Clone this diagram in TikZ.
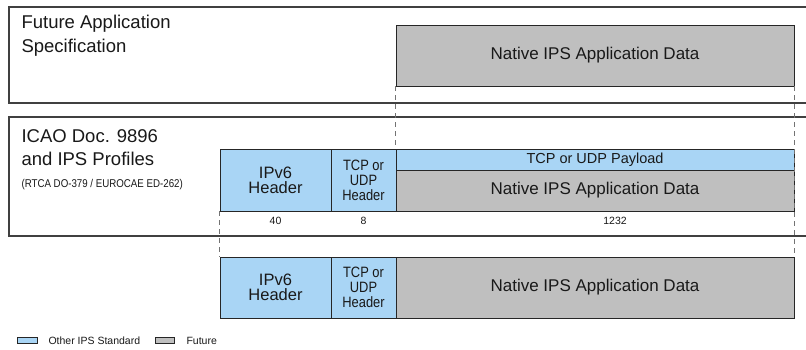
\documentclass[tikz,border=0pt]{standalone}
\usepackage{fontspec}
\setmainfont{Liberation Sans}
\newfontfamily\narrowfont[FakeStretch=0.86]{Liberation Sans}
\begin{document}
\begin{tikzpicture}[x=1pt,y=-1pt,
  frame/.style={draw=black!75, line width=1.3pt},
  cell/.style={draw=black!85, line width=0.8pt, inner sep=0pt, align=center, text=black!90},
  bluecell/.style={cell, fill=ipsblue},
  graycell/.style={cell, fill=futgray},
  guide/.style={draw=black!55, line width=0.8pt, dash pattern=on 5pt off 4pt},
  num/.style={font=\fontsize{10.5}{12}\selectfont, anchor=base, text=black!90},
  title/.style={anchor=base west, font=\fontsize{18.5}{22}\selectfont, text=black!90},
  legend/.style={anchor=base west, font=\fontsize{10.5}{12}\selectfont, text=black!90}
]
\definecolor{ipsblue}{HTML}{A9D5F5}
\definecolor{futgray}{HTML}{BFBFBF}
\useasboundingbox (0,0) rectangle (806,349);
\clip (0,0) rectangle (806,349);
\fill[white] (0,0) rectangle (806,349);

% frames
\draw[frame] (820,7) -- (9,7) -- (9,103) -- (820,103);
\draw[frame] (820,117) -- (9,117) -- (9,236) -- (820,236);

% titles
\node[title] (t1) at (18,28) {Future Application};
\node[title] (t2) at (18,52) {Specification};
\node[title] (t3) at (18,142) {ICAO Doc. 9896};
\node[title] (t4) at (18,165) {and IPS Profiles};
\node[anchor=base west, font=\narrowfont\fontsize{11.3}{12}\selectfont, text=black!90] (t5) at (18,187) {(RTCA DO-379 / EUROCAE ED-262)};

% top row
\node[graycell, minimum width=398pt, minimum height=61pt, font=\fontsize{17}{20}\selectfont] (fut) at (595,55.5) {Native IPS Application Data};

% middle row
\node[bluecell, minimum width=111pt, minimum height=62pt, font=\fontsize{16.5}{15}\selectfont] (ip1) at (275.5,180) {IPv6\\Header};
\node[bluecell, minimum width=65pt, minimum height=62pt, font=\narrowfont\fontsize{15}{15}\selectfont] (tcp1) at (363.5,180) {TCP or\\UDP\\Header};
\node[bluecell, minimum width=398pt, minimum height=21pt, font=\fontsize{14.5}{16}\selectfont] (pay) at (595,159.5) {TCP or UDP Payload};
\node[graycell, minimum width=398pt, minimum height=41pt, font=\fontsize{17}{20}\selectfont] (nat1) at (595,190.5) {Native IPS Application Data};

\node[num] (n40) at (275.5,224) {40};
\node[num] (n8) at (363.5,224) {8};
\node[num] (n1232) at (615,224) {1232};

% bottom row
\node[bluecell, minimum width=111pt, minimum height=61pt, font=\fontsize{16.5}{15}\selectfont] (ip2) at (275.5,287.5) {IPv6\\Header};
\node[bluecell, minimum width=65pt, minimum height=61pt, font=\narrowfont\fontsize{15}{15}\selectfont] (tcp2) at (363.5,287.5) {TCP or\\UDP\\Header};
\node[graycell, minimum width=398pt, minimum height=61pt, font=\fontsize{17}{20}\selectfont] (nat2) at (595,287.5) {Native IPS Application Data};

% guides
\draw[guide] (fut.south west) -- (pay.north west);
\draw[guide] (fut.south east) -- (nat2.north east);
\draw[guide] (ip1.south west) -- (ip2.north west);

% legend
\node[bluecell, minimum width=20pt, minimum height=6pt] (lb) at (27,340.5) {};
\node[legend] (lbt) at (45,344) {Other IPS Standard};
\node[graycell, minimum width=19pt, minimum height=6pt] (lg) at (164.5,340.5) {};
\node[legend] (lgt) at (183,344) {Future};
\end{tikzpicture}
\end{document}
